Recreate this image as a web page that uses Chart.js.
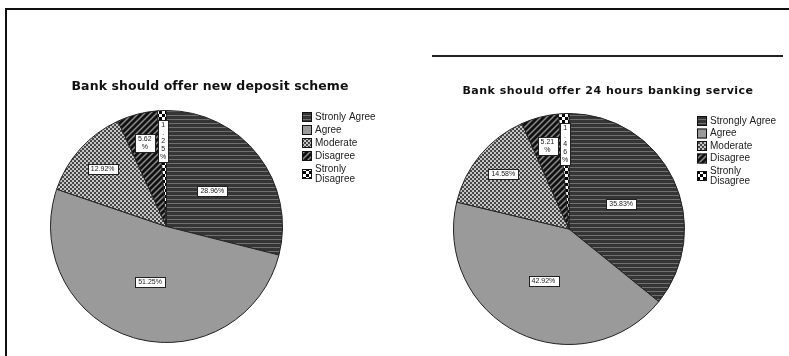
<!DOCTYPE html>
<html>
<head>
<meta charset="utf-8">
<script src="https://cdn.jsdelivr.net/npm/chart.js@4.4.0/dist/chart.umd.min.js"></script>
<style>
  html, body { margin: 0; padding: 0; background: #fff; }
  #wrap { position: relative; width: 789px; height: 356px; overflow: hidden; }
  canvas { position: absolute; top: 0; }
  .rule { position: absolute; background: #111; }
</style>
</head>
<body>
<div id="wrap">
  <div class="rule" style="left:5px;top:8px;width:784px;height:2px"></div>
  <div class="rule" style="left:5px;top:8px;width:2px;height:348px"></div>
  <div class="rule" style="left:432px;top:55px;width:351px;height:2px;background:#222"></div>
  <canvas id="left" width="430" height="356" style="left:0"></canvas>
  <canvas id="right" width="359" height="356" style="left:430px"></canvas>
</div>
<script>
const titleLeft = 'Bank should offer new deposit scheme';
const titleRight = 'Bank should offer 24 hours banking service';
const categoriesLeft = ['Stronly Agree', 'Agree', 'Moderate', 'Disagree', ['Stronly', 'Disagree']];
const categoriesRight = ['Strongly Agree', 'Agree', 'Moderate', 'Disagree', ['Stronly', 'Disagree']];
const valuesLeft = [28.96, 51.25, 12.92, 5.62, 1.25];
const valuesRight = [35.83, 42.92, 14.58, 5.21, 1.46];

// fill patterns like the old SPSS print styles
function makePattern(w, h, draw) {
  const c = document.createElement('canvas');
  c.width = w; c.height = h;
  const g = c.getContext('2d');
  draw(g);
  return g.createPattern(c, 'repeat');
}

const stripes = makePattern(1, 4, g => {
  g.fillStyle = '#353535'; g.fillRect(0, 0, 1, 4);
  g.fillStyle = '#707070'; g.fillRect(0, 3, 1, 1);
});
const solidGray = '#9a9a9a';
const smallCheck = makePattern(4, 4, g => {
  g.fillStyle = '#484848'; g.fillRect(0, 0, 4, 4);
  g.fillStyle = '#c4c4c4'; g.fillRect(0, 0, 2, 2); g.fillRect(2, 2, 2, 2);
});
const diag = makePattern(6, 6, g => {
  g.fillStyle = '#111'; g.fillRect(0, 0, 6, 6);
  g.strokeStyle = '#8a8a8a'; g.lineWidth = 1.5;
  g.beginPath();
  g.moveTo(-1, 7); g.lineTo(7, -1);
  g.moveTo(-1, 1); g.lineTo(1, -1);
  g.moveTo(5, 7); g.lineTo(7, 5);
  g.stroke();
});
const bigCheck = makePattern(6, 6, g => {
  g.fillStyle = '#fff'; g.fillRect(0, 0, 6, 6);
  g.fillStyle = '#000'; g.fillRect(0, 0, 3, 3); g.fillRect(3, 3, 3, 3);
});
const fills = [stripes, solidGray, smallCheck, diag, bigCheck];

const decor = {
  id: 'decor',
  afterDatasetsDraw(chart, args, opts) {
    const ctx = chart.ctx;
    const meta = chart.getDatasetMeta(0);
    const vals = chart.data.datasets[0].data;
    const total = vals.reduce((a, b) => a + b, 0);
    ctx.save();
    ctx.font = '7px "Liberation Sans Narrow", "Liberation Sans", sans-serif';
    ctx.textAlign = 'center';
    ctx.textBaseline = 'middle';
    meta.data.forEach((arc, i) => {
      const p = arc.getProps(['x', 'y', 'startAngle', 'endAngle', 'outerRadius'], true);
      const pct = vals[i] / total * 100;
      const mid = (p.startAngle + p.endAngle) / 2;
      const f = pct < 20 ? 0.74 : 0.5;
      const cx = p.x + Math.cos(mid) * p.outerRadius * f;
      const cy = p.y + Math.sin(mid) * p.outerRadius * f;
      const txt = vals[i].toFixed(2) + '%';
      let lines;
      if (pct < 2) lines = txt.split('');
      else if (pct < 8) lines = [vals[i].toFixed(2), '%'];
      else lines = [txt];
      const lh = 8;
      const w = Math.max(...lines.map(l => ctx.measureText(l).width)) + (lines.length > 2 ? 4 : 6);
      const h = lines.length * lh + 2;
      const bx = Math.round(cx - w / 2) + 0.5, by = Math.round(cy - h / 2) + 0.5;
      ctx.fillStyle = '#fff';
      ctx.fillRect(bx, by, Math.round(w), Math.round(h));
      ctx.strokeStyle = '#222';
      ctx.lineWidth = 1;
      ctx.strokeRect(bx, by, Math.round(w), Math.round(h));
      ctx.fillStyle = '#222';
      lines.forEach((l, k) => ctx.fillText(l, cx, cy - h / 2 + 1 + lh / 2 + k * lh));
    });

    // title
    ctx.fillStyle = '#111';
    ctx.font = opts.titleFont;
    ctx.letterSpacing = opts.titleSpacing;
    ctx.textAlign = 'center';
    ctx.fillText(opts.title, opts.titleX, opts.titleY);
    ctx.letterSpacing = '0px';

    // legend
    ctx.font = '10px "Liberation Sans", Arial, sans-serif';
    ctx.textAlign = 'left';
    let y = opts.legendY;
    chart.data.labels.forEach((lab, i) => {
      const lines = Array.isArray(lab) ? lab : [lab];
      const rowH = lines.length > 1 ? opts.legendStep + 4 : opts.legendStep;
      const boxY = y + (lines.length - 1) * 5;
      ctx.fillStyle = chart.data.datasets[0].backgroundColor[i];
      ctx.fillRect(opts.legendX, boxY - 5, 10, 10);
      ctx.strokeStyle = '#111';
      ctx.strokeRect(opts.legendX + 0.5, boxY - 4.5, 9, 9);
      ctx.fillStyle = '#222';
      lines.forEach((l, k) => ctx.fillText(l, opts.legendX + 13, y + k * 10));
      y += rowH;
    });
    ctx.restore();
  }
};

function pie(id, labels, values, pad, decorOpts) {
  return new Chart(document.getElementById(id), {
    type: 'pie',
    data: {
      labels: labels,
      datasets: [{
        data: values,
        backgroundColor: fills,
        borderColor: '#222',
        borderWidth: 1
      }]
    },
    options: {
      responsive: false,
      animation: false,
      layout: { padding: pad },
      plugins: {
        legend: { display: false },
        tooltip: { enabled: false },
        decor: decorOpts
      }
    },
    plugins: [decor]
  });
}

pie('left', categoriesLeft, valuesLeft,
  { left: 50, top: 110, right: 147, bottom: 13 },
  { title: titleLeft, titleFont: 'bold 12.5px "DejaVu Sans", sans-serif', titleSpacing: '0.1px',
    titleX: 210, titleY: 87, legendX: 302, legendY: 117, legendStep: 13 });

pie('right', categoriesRight, valuesRight,
  { left: 23, top: 113, right: 104, bottom: 11 },
  { title: titleRight, titleFont: 'bold 11px "DejaVu Sans", sans-serif', titleSpacing: '0.5px',
    titleX: 178, titleY: 91, legendX: 267, legendY: 121, legendStep: 12.5 });
</script>
</body>
</html>
